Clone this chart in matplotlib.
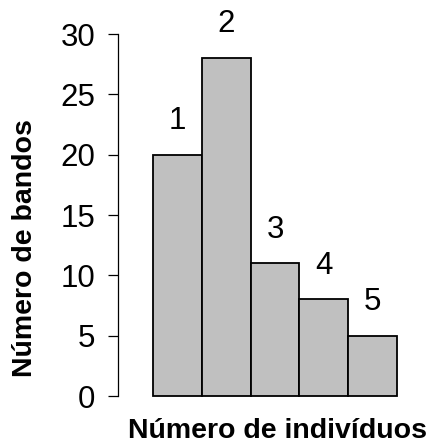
import matplotlib
matplotlib.use("Agg")
from matplotlib import pyplot as plt

# 数据
categorias = [1, 2, 3, 4, 5]
bandos = [20, 28, 11, 8, 5]
rotulos = ["1", "2", "3", "4", "5"]
y_ticks = [0, 5, 10, 15, 20, 25, 30]

plt.rcParams['font.family'] = ['Liberation Sans', 'DejaVu Sans']

fig = plt.figure(figsize=(4.36, 4.44), dpi=100)
W, H = 436, 444
ax = fig.add_axes([118 / W, (H - 396) / H, (400 - 118) / W, (396 - 34) / H])

# 柱状图
ax.bar(categorias, bandos, width=1.0, color="#c0c0c0", edgecolor="black",
       linewidth=1.3, clip_on=False)

# 柱子上的标签
for x, v, r in zip(categorias, bandos, rotulos):
    ax.annotate(r, (x, v), xytext=(0, 18.5), textcoords="offset points",
                ha="center", va="baseline", fontsize=22.5, annotation_clip=False)

ax.set_xlim(-0.217, 5.56)
ax.set_ylim(0, 30)
ax.set_yticks(y_ticks)
ax.tick_params(axis="y", labelsize=22.5, length=7.2, width=0.9, pad=9)
ax.set_xticks([])

for s in ["top", "right", "bottom"]:
    ax.spines[s].set_visible(False)
ax.spines["left"].set_linewidth(0.9)

# 坐标轴标题
fig.text(25 / W, (H - 248) / H, "Número de bandos", rotation=90,
         ha="center", va="center", fontsize=20.5, fontweight="bold")
fig.text(278 / W, 6.5 / H, "Número de indivíduos",
         ha="center", va="baseline", fontsize=20.5, fontweight="bold")

plt.savefig("out.png", dpi=100)
